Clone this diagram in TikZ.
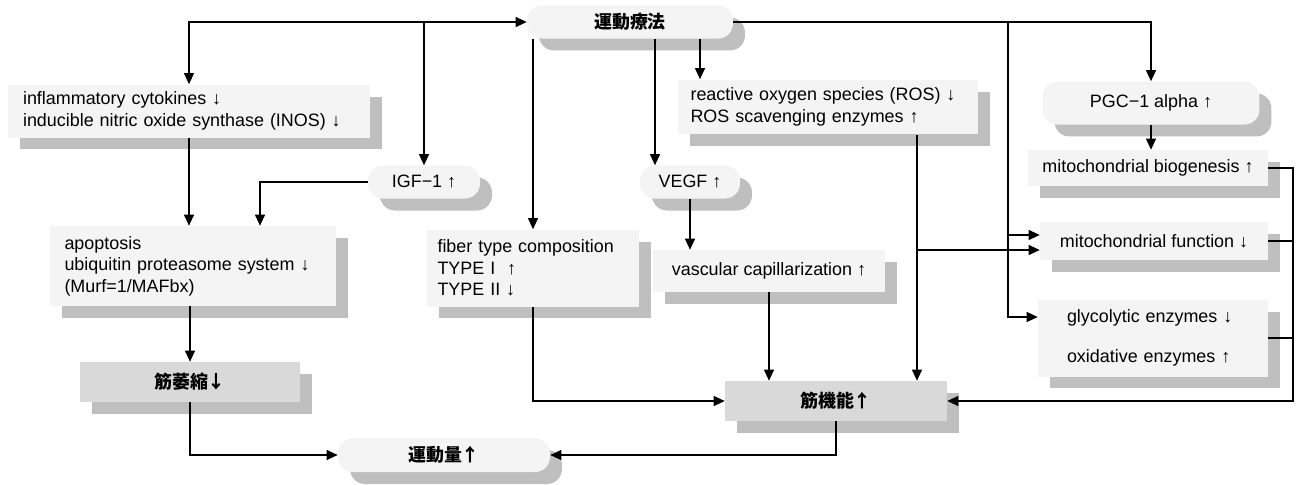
\documentclass[tikz,border=0pt]{standalone}
\usepackage{fontspec}
\setmainfont{Liberation Sans}
\newfontfamily\jpfont{Noto Sans CJK JP}
\usetikzlibrary{positioning,arrows.meta,calc,shadows}

\begin{document}
\begin{tikzpicture}[x=0.02cm, y=-0.02cm,
  every node/.style={font=\fontsize{10.2}{12.2}\selectfont},
  box/.style={
    rectangle, fill=gray!9, inner sep=0pt,
    drop shadow={shadow xshift=2.4mm, shadow yshift=-2.4mm, fill=gray!50, opacity=1}
  },
  tbox/.style={box, align=left, inner xsep=3mm},
  pill/.style={box, rounded corners=3mm},
  greybox/.style={box, fill=gray!30},
  arrow/.style={-{Triangle[length=2.2mm,width=2mm]}, line width=0.6pt},
  dblarrow/.style={arrow, {Triangle[length=2.2mm,width=2mm]}-{Triangle[length=2.2mm,width=2mm]}}
]
\useasboundingbox (0,0) rectangle (1301,484);

\node[pill, minimum width=41.2mm, minimum height=6.6mm] (therapy) at (630,22) {\jpfont\bfseries 運動療法};
\node[tbox, text width=66.4mm, inner xsep=3mm, minimum height=10.6mm] (inflam) at (189,111)
  {inflammatory cytokines ↓\\inducible nitric oxide synthase (INOS) ↓};
\node[pill, minimum width=22.4mm, minimum height=6.6mm] (igf) at (424,182) {IGF−1 ↑};
\node[tbox, text width=51.4mm, minimum height=16mm] (apopt) at (193,266)
  {apoptosis\\ubiquitin proteasome system ↓\\(Murf=1/MAFbx)};
\node[greybox, minimum width=44mm, minimum height=8mm] (atrophy) at (190,382) {\jpfont\bfseries 筋萎縮↓};
\node[pill, minimum width=42.4mm, minimum height=6.8mm] (amount) at (444,455) {\jpfont\bfseries 運動量↑};
\node[tbox, text width=38.2mm, inner xsep=2.2mm, minimum height=15.4mm] (fiber) at (533,268)
  {fiber type composition\\TYPE I\ \ ↑\\TYPE II ↓};
\node[pill, minimum width=20mm, minimum height=6.6mm] (vegf) at (690,182) {VEGF ↑};
\node[box, minimum width=46.4mm, minimum height=8.4mm] (vasc) at (769,271) {vascular capillarization ↑};
\node[tbox, text width=55mm, inner xsep=2.6mm, minimum height=11mm] (ros) at (828,107)
  {reactive oxygen species (ROS) ↓\\ROS scavenging enzymes ↑};
\node[pill, minimum width=43.4mm, minimum height=8.6mm] (pgc) at (1151,103) {PGC−1 alpha ↑};
\node[box, minimum width=48mm, minimum height=7.2mm] (biogen) at (1148,168) {mitochondrial biogenesis ↑};
\node[box, minimum width=45.6mm, minimum height=7.6mm] (mfunc) at (1154,241) {mitochondrial function ↓};
\node[tbox, text width=34.4mm, inner xsep=5.8mm, minimum height=15.4mm] (enz) at (1153,338)
  {glycolytic enzymes ↓\\[3.6mm]oxidative enzymes ↑};
\node[greybox, minimum width=44.4mm, minimum height=8mm] (func) at (836,401) {\jpfont\bfseries 筋機能↑};

% branch points
\coordinate (rbus) at (1008,22);
\coordinate (rcol) at (1293,0);
\coordinate (rosout) at ($(ros.south)+(89,0)$);
\coordinate (mfin1) at ($(mfunc.west)+(0,-6)$);
\coordinate (mfin2) at ($(mfunc.west)+(0,9)$);
\coordinate (enzin) at ($(enz.west)+(0,-21)$);

% top bus
\draw[dblarrow] (inflam.north) |- (therapy.west);
\draw[arrow] (igf.north |- therapy.west) -- (igf.north);
\draw[arrow] (therapy.east) -| (pgc.north);
\draw[arrow] (rbus) |- (enzin);
\draw[arrow] (rbus |- mfin1) -- (mfin1);

% from the therapy box
\draw[arrow] (fiber.north |- therapy.south) -- (fiber.north);
\draw[arrow] ($(vegf.north |- therapy.south)+(-35,0)$) -- ($(vegf.north)+(-35,0)$);
\draw[arrow] ($(ros.north |- therapy.south)+(-128,0)$) -- ($(ros.north)+(-128,0)$);

% left column
\draw[arrow] (inflam.south) -- (inflam.south |- apopt.north);
\draw[arrow] (igf.west) -| ($(apopt.north)+(67,0)$);
\draw[arrow] (atrophy.north |- apopt.south) -- (atrophy.north);
\draw[arrow] (atrophy.south) |- (amount.west);

% middle
\draw[arrow] (vegf.south) -- (vegf.south |- vasc.north);
\draw[arrow] (vasc.south) -- (vasc.south |- func.north);
\draw[arrow] (fiber.south) |- (func.west);
\draw[arrow] (rosout) -- (rosout |- func.north);
\draw[arrow] (rosout |- mfin2) -- (mfin2);
\draw[arrow] (func.south) |- (amount.east);

% right column
\draw[arrow] (pgc.south) -- (pgc.south |- biogen.north);
\draw[arrow] (biogen.east) -| (rcol |- func.east) -- (func.east);
\draw[line width=0.6pt] (mfunc.east) -- (rcol |- mfunc.east);
\draw[line width=0.6pt] (enz.east) -- (rcol |- enz.east);
\end{tikzpicture}
\end{document}
